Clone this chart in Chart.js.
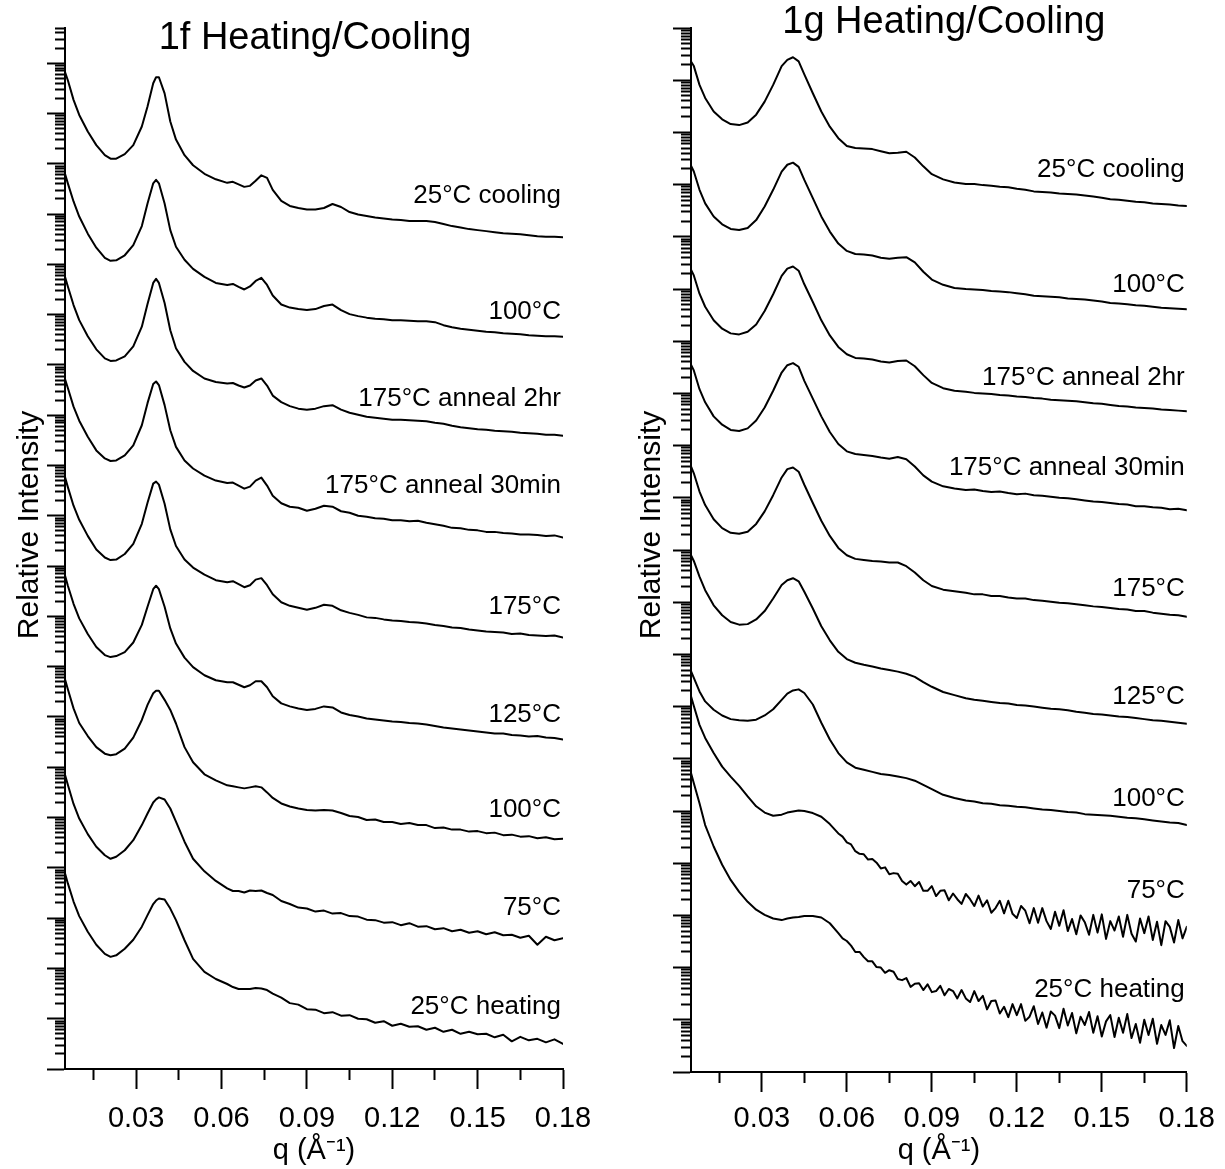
<!DOCTYPE html>
<html>
<head>
<meta charset="utf-8">
<title>1f / 1g Heating/Cooling SAXS</title>
<script src="https://cdn.jsdelivr.net/npm/chart.js@4.4.1/dist/chart.umd.min.js"></script>
<style>
  html, body { margin: 0; padding: 0; background: #fff; }
  #wrap { position: relative; width: 1225px; height: 1169px; overflow: hidden; }
  canvas { position: absolute; top: 0; }
  #c1f { left: 0; }
  #c1g { left: 612px; }
</style>
</head>
<body>
<div id="wrap">
  <canvas id="c1f" width="612" height="1169"></canvas>
  <canvas id="c1g" width="613" height="1169"></canvas>
</div>
<script>
// ---------- x axis ticks (q, 1/Å) ----------
const xTickValues = [0.015, 0.03, 0.045, 0.06, 0.075, 0.09, 0.105, 0.12, 0.135, 0.15, 0.165, 0.18];
const xTickLabeled = [0.03, 0.06, 0.09, 0.12, 0.15, 0.18];

// ---------- sample 1f : q grid and log10(relative intensity), curves stacked ----------
const q1f = [0.005, 0.006, 0.008, 0.010, 0.013, 0.016, 0.019, 0.021, 0.023, 0.026,
  0.029, 0.032, 0.034, 0.036, 0.037, 0.038, 0.040, 0.042, 0.044, 0.047,
  0.050, 0.054, 0.058, 0.062, 0.064, 0.066, 0.068, 0.070, 0.072, 0.074,
  0.076, 0.078, 0.081, 0.084, 0.087, 0.090, 0.093, 0.096, 0.099, 0.102,
  0.105, 0.108, 0.111, 0.114, 0.117, 0.120, 0.123, 0.126, 0.129, 0.132,
  0.135, 0.138, 0.141, 0.144, 0.147, 0.150, 0.153, 0.156, 0.159, 0.162,
  0.165, 0.168, 0.171, 0.174, 0.177, 0.180];

const f_cool25 = [18.82, 18.66, 18.27, 17.97, 17.64, 17.37, 17.17, 17.10, 17.10, 17.19,
  17.37, 17.74, 18.14, 18.60, 18.72, 18.72, 18.40, 17.84, 17.48, 17.17,
  16.97, 16.80, 16.69, 16.62, 16.64, 16.59, 16.54, 16.56, 16.66, 16.77,
  16.72, 16.48, 16.26, 16.16, 16.12, 16.09, 16.09, 16.12, 16.20, 16.14,
  16.04, 15.99, 15.96, 15.93, 15.91, 15.89, 15.88, 15.86, 15.86, 15.86,
  15.84, 15.80, 15.76, 15.73, 15.70, 15.68, 15.66, 15.64, 15.62, 15.61,
  15.60, 15.58, 15.56, 15.55, 15.55, 15.54];
const f_cool100 = [16.80, 16.61, 16.25, 15.95, 15.61, 15.33, 15.13, 15.07, 15.08, 15.18,
  15.38, 15.76, 16.21, 16.61, 16.68, 16.61, 16.21, 15.68, 15.35, 15.09,
  14.91, 14.75, 14.63, 14.59, 14.61, 14.55, 14.50, 14.56, 14.67, 14.73,
  14.59, 14.38, 14.20, 14.14, 14.11, 14.09, 14.11, 14.17, 14.20, 14.09,
  14.01, 13.97, 13.94, 13.92, 13.91, 13.89, 13.89, 13.88, 13.87, 13.87,
  13.85, 13.79, 13.75, 13.72, 13.70, 13.68, 13.66, 13.65, 13.63, 13.62,
  13.61, 13.59, 13.58, 13.57, 13.57, 13.56];
const f_anneal2h = [14.75, 14.56, 14.19, 13.89, 13.57, 13.31, 13.13, 13.08, 13.09, 13.17,
  13.37, 13.76, 14.21, 14.63, 14.71, 14.63, 14.23, 13.69, 13.33, 13.06,
  12.88, 12.73, 12.66, 12.63, 12.64, 12.59, 12.55, 12.59, 12.69, 12.73,
  12.59, 12.39, 12.26, 12.18, 12.13, 12.11, 12.13, 12.18, 12.20, 12.11,
  12.05, 12.01, 11.97, 11.95, 11.93, 11.91, 11.91, 11.90, 11.89, 11.88,
  11.85, 11.83, 11.79, 11.76, 11.74, 11.72, 11.71, 11.69, 11.68, 11.67,
  11.65, 11.64, 11.63, 11.61, 11.61, 11.59];
const f_anneal30 = [12.72, 12.54, 12.17, 11.89, 11.57, 11.30, 11.14, 11.09, 11.10, 11.20,
  11.40, 11.80, 12.24, 12.62, 12.67, 12.60, 12.20, 11.70, 11.37, 11.10,
  10.94, 10.80, 10.70, 10.65, 10.66, 10.60, 10.54, 10.58, 10.70, 10.76,
  10.60, 10.40, 10.25, 10.18, 10.16, 10.10, 10.14, 10.20, 10.18, 10.09,
  10.06, 10.00, 9.98, 9.95, 9.94, 9.91, 9.91, 9.89, 9.90, 9.86,
  9.83, 9.80, 9.76, 9.75, 9.72, 9.71, 9.68, 9.68, 9.66, 9.65,
  9.63, 9.63, 9.62, 9.60, 9.61, 9.57];
const f_heat175 = [10.77, 10.57, 10.20, 9.92, 9.60, 9.33, 9.17, 9.12, 9.13, 9.24,
  9.44, 9.84, 10.26, 10.64, 10.68, 10.62, 10.24, 9.73, 9.40, 9.13,
  8.97, 8.83, 8.72, 8.68, 8.70, 8.64, 8.58, 8.62, 8.73, 8.76,
  8.62, 8.44, 8.28, 8.21, 8.17, 8.13, 8.17, 8.23, 8.21, 8.12,
  8.07, 8.03, 7.98, 7.97, 7.94, 7.92, 7.91, 7.89, 7.88, 7.86,
  7.83, 7.81, 7.78, 7.77, 7.74, 7.72, 7.70, 7.69, 7.68, 7.65,
  7.66, 7.63, 7.62, 7.61, 7.62, 7.58];
const f_heat125 = [8.81, 8.61, 8.25, 7.96, 7.65, 7.39, 7.23, 7.19, 7.21, 7.29,
  7.48, 7.83, 8.19, 8.54, 8.61, 8.54, 8.19, 7.76, 7.46, 7.18,
  6.99, 6.83, 6.73, 6.69, 6.69, 6.64, 6.59, 6.63, 6.71, 6.71,
  6.59, 6.41, 6.27, 6.21, 6.17, 6.14, 6.16, 6.21, 6.19, 6.09,
  6.04, 6.01, 5.97, 5.95, 5.93, 5.91, 5.90, 5.88, 5.87, 5.85,
  5.82, 5.79, 5.77, 5.75, 5.73, 5.71, 5.69, 5.67, 5.67, 5.64,
  5.63, 5.61, 5.62, 5.59, 5.58, 5.55];
const f_heat100 = [6.75, 6.55, 6.17, 5.88, 5.62, 5.40, 5.27, 5.24, 5.26, 5.37,
  5.59, 5.94, 6.24, 6.47, 6.52, 6.52, 6.34, 6.14, 5.87, 5.40,
  5.10, 4.86, 4.74, 4.64, 4.62, 4.60, 4.58, 4.60, 4.62, 4.60,
  4.50, 4.39, 4.28, 4.22, 4.18, 4.15, 4.14, 4.15, 4.14, 4.09,
  4.03, 4.01, 3.95, 3.96, 3.91, 3.91, 3.87, 3.89, 3.85, 3.85,
  3.79, 3.80, 3.76, 3.76, 3.72, 3.73, 3.69, 3.70, 3.65, 3.66,
  3.62, 3.63, 3.59, 3.61, 3.57, 3.58];
const f_heat75 = [4.85, 4.65, 4.27, 3.98, 3.67, 3.42, 3.25, 3.18, 3.22, 3.35,
  3.55, 3.85, 4.08, 4.30, 4.36, 4.40, 4.36, 4.18, 3.92, 3.52,
  3.18, 2.93, 2.74, 2.59, 2.54, 2.54, 2.51, 2.55, 2.54, 2.55,
  2.50, 2.46, 2.34, 2.28, 2.21, 2.19, 2.13, 2.15, 2.09, 2.10,
  2.04, 2.03, 1.97, 1.96, 1.91, 1.92, 1.86, 1.90, 1.83, 1.84,
  1.78, 1.80, 1.74, 1.77, 1.71, 1.74, 1.68, 1.72, 1.66, 1.67,
  1.61, 1.65, 1.47, 1.63, 1.56, 1.60];
const f_heat25 = [2.89, 2.69, 2.33, 2.04, 1.73, 1.47, 1.29, 1.23, 1.26, 1.39,
  1.57, 1.83, 2.06, 2.28, 2.35, 2.39, 2.37, 2.19, 1.96, 1.56,
  1.19, 0.93, 0.79, 0.69, 0.63, 0.59, 0.59, 0.59, 0.61, 0.60,
  0.57, 0.50, 0.42, 0.31, 0.28, 0.19, 0.18, 0.11, 0.13, 0.06,
  0.07, 0.00, -0.01, -0.08, -0.05, -0.14, -0.10, -0.16, -0.15, -0.22,
  -0.18, -0.26, -0.22, -0.30, -0.26, -0.31, -0.30, -0.37, -0.32, -0.45,
  -0.36, -0.43, -0.40, -0.47, -0.41, -0.50];

const names1f = ['25°C cooling', '100°C', '175°C anneal 2hr', '175°C anneal 30min',
  '175°C', '125°C', '100°C', '75°C', '25°C heating'];
// log10 level of each curve label's baseline
const labelLevels1f = [16.22, 13.91, 12.18, 10.46, 8.04, 5.90, 4.02, 2.07, 0.09];

// ---------- sample 1g ----------
const q1g = [0.005, 0.006, 0.008, 0.010, 0.013, 0.016, 0.019, 0.022, 0.025, 0.028,
  0.031, 0.034, 0.037, 0.039, 0.041, 0.043, 0.045, 0.048, 0.051, 0.054,
  0.057, 0.060, 0.063, 0.066, 0.069, 0.072, 0.075, 0.078, 0.081, 0.084,
  0.087, 0.090, 0.094, 0.098, 0.102, 0.105, 0.108, 0.111, 0.114, 0.117,
  0.120, 0.123, 0.126, 0.129, 0.132, 0.135, 0.138, 0.141, 0.144, 0.147,
  0.150, 0.153, 0.156, 0.159, 0.162, 0.165, 0.168, 0.171, 0.174, 0.177,
  0.180];

// denser q sampling for the two noisy 1g heating scans
const q1gDense = [0.005, 0.006, 0.008, 0.010, 0.013, 0.016, 0.019, 0.022, 0.025, 0.028,
  0.031, 0.034, 0.037, 0.039, 0.041, 0.043, 0.045, 0.048, 0.051, 0.054,
  0.057,
  0.0585, 0.0600, 0.0615, 0.0630, 0.0645, 0.0660, 0.0675, 0.0690, 0.0705, 0.0720,
  0.0735, 0.0750, 0.0765, 0.0780, 0.0795, 0.0810, 0.0825, 0.0840, 0.0855, 0.0870,
  0.0885, 0.0900, 0.0915, 0.0930, 0.0945, 0.0960, 0.0975, 0.0990, 0.1005, 0.1020,
  0.1035, 0.1050, 0.1065, 0.1080, 0.1095, 0.1110, 0.1125, 0.1140, 0.1155, 0.1170,
  0.1185, 0.1200, 0.1215, 0.1230, 0.1245, 0.1260, 0.1275, 0.1290, 0.1305, 0.1320,
  0.1335, 0.1350, 0.1365, 0.1380, 0.1395, 0.1410, 0.1425, 0.1440, 0.1455, 0.1470,
  0.1485, 0.1500, 0.1515, 0.1530, 0.1545, 0.1560, 0.1575, 0.1590, 0.1605, 0.1620,
  0.1635, 0.1650, 0.1665, 0.1680, 0.1695, 0.1710, 0.1725, 0.1740, 0.1755, 0.1770,
  0.1785, 0.1800];

const g_cool25 = [19.36, 19.27, 18.91, 18.66, 18.40, 18.25, 18.16, 18.14, 18.19, 18.34,
  18.59, 18.91, 19.27, 19.39, 19.44, 19.36, 19.11, 18.75, 18.40, 18.11,
  17.89, 17.74, 17.70, 17.69, 17.68, 17.64, 17.60, 17.61, 17.63, 17.52,
  17.35, 17.20, 17.10, 17.04, 17.01, 17.01, 16.99, 16.98, 16.96, 16.95,
  16.92, 16.90, 16.87, 16.86, 16.85, 16.83, 16.82, 16.81, 16.79, 16.77,
  16.75, 16.72, 16.71, 16.69, 16.67, 16.66, 16.64, 16.63, 16.62, 16.60,
  16.59];
const g_cool100 = [17.36, 17.25, 16.90, 16.64, 16.39, 16.24, 16.15, 16.13, 16.17, 16.32,
  16.58, 16.90, 17.25, 17.38, 17.42, 17.34, 17.09, 16.74, 16.39, 16.10,
  15.87, 15.73, 15.67, 15.66, 15.64, 15.60, 15.58, 15.60, 15.61, 15.51,
  15.33, 15.18, 15.08, 15.02, 15.00, 14.99, 14.98, 14.96, 14.95, 14.94,
  14.92, 14.90, 14.87, 14.86, 14.85, 14.84, 14.82, 14.81, 14.80, 14.78,
  14.76, 14.73, 14.72, 14.71, 14.69, 14.68, 14.66, 14.64, 14.63, 14.62,
  14.61];
const g_anneal2h = [15.37, 15.26, 14.91, 14.66, 14.40, 14.24, 14.15, 14.13, 14.18, 14.32,
  14.58, 14.90, 15.25, 15.39, 15.43, 15.35, 15.09, 14.75, 14.40, 14.11,
  13.89, 13.75, 13.68, 13.67, 13.65, 13.61, 13.59, 13.62, 13.63, 13.52,
  13.35, 13.20, 13.10, 13.05, 13.03, 13.01, 13.00, 12.99, 12.97, 12.96,
  12.94, 12.93, 12.91, 12.90, 12.88, 12.87, 12.86, 12.85, 12.83, 12.81,
  12.80, 12.78, 12.76, 12.75, 12.73, 12.72, 12.71, 12.69, 12.68, 12.67,
  12.66];
const g_anneal30 = [13.55, 13.44, 13.08, 12.83, 12.56, 12.40, 12.30, 12.28, 12.33, 12.48,
  12.73, 13.05, 13.40, 13.54, 13.58, 13.51, 13.24, 12.90, 12.56, 12.26,
  12.03, 11.89, 11.84, 11.82, 11.80, 11.77, 11.75, 11.78, 11.74, 11.60,
  11.43, 11.31, 11.22, 11.18, 11.15, 11.16, 11.13, 11.11, 11.12, 11.09,
  11.07, 11.08, 11.05, 11.04, 11.02, 11.00, 10.99, 10.97, 10.95, 10.93,
  10.92, 10.90, 10.88, 10.87, 10.84, 10.84, 10.82, 10.81, 10.78, 10.79,
  10.76];
const g_heat175 = [11.60, 11.47, 11.12, 10.86, 10.59, 10.42, 10.33, 10.31, 10.35, 10.50,
  10.74, 11.05, 11.39, 11.55, 11.58, 11.50, 11.25, 10.90, 10.56, 10.27,
  10.04, 9.90, 9.83, 9.81, 9.79, 9.78, 9.76, 9.76, 9.69, 9.57,
  9.42, 9.31, 9.24, 9.21, 9.18, 9.15, 9.15, 9.12, 9.12, 9.09,
  9.07, 9.07, 9.04, 9.03, 9.01, 8.99, 8.98, 8.96, 8.94, 8.92,
  8.91, 8.89, 8.87, 8.86, 8.83, 8.83, 8.80, 8.78, 8.76, 8.75,
  8.72];
const g_heat125 = [9.90, 9.79, 9.49, 9.23, 8.94, 8.75, 8.62, 8.57, 8.58, 8.67,
  8.83, 9.07, 9.33, 9.42, 9.46, 9.40, 9.20, 8.88, 8.54, 8.27,
  8.05, 7.91, 7.84, 7.80, 7.77, 7.73, 7.70, 7.67, 7.63, 7.57,
  7.47, 7.38, 7.28, 7.22, 7.16, 7.13, 7.11, 7.09, 7.07, 7.06,
  7.03, 7.02, 7.00, 6.98, 6.96, 6.95, 6.93, 6.90, 6.88, 6.86,
  6.85, 6.83, 6.81, 6.80, 6.78, 6.76, 6.74, 6.73, 6.71, 6.69,
  6.67];
const g_heat100 = [7.68, 7.55, 7.29, 7.10, 6.94, 6.83, 6.76, 6.74, 6.73, 6.75,
  6.83, 6.95, 7.13, 7.25, 7.31, 7.33, 7.26, 7.04, 6.69, 6.37,
  6.11, 5.93, 5.83, 5.79, 5.75, 5.71, 5.69, 5.66, 5.63, 5.58,
  5.50, 5.42, 5.31, 5.25, 5.20, 5.18, 5.15, 5.14, 5.11, 5.10,
  5.08, 5.07, 5.05, 5.03, 5.02, 5.00, 4.98, 4.97, 4.94, 4.93,
  4.92, 4.91, 4.89, 4.87, 4.86, 4.84, 4.82, 4.80, 4.78, 4.77,
  4.73];
// on q1gDense
const g_heat75 = [7.20, 7.01, 6.65, 6.40, 6.11, 5.85, 5.66, 5.48, 5.28, 5.09,
  4.97, 4.91, 4.93, 4.97, 4.99, 5.01, 5.00, 4.96, 4.89, 4.75,
  4.57,
  4.51, 4.40, 4.36, 4.23, 4.18, 4.17, 4.07, 4.08, 4.01, 3.90,
  3.92, 3.79, 3.81, 3.80, 3.66, 3.59, 3.66, 3.56, 3.64, 3.47,
  3.47, 3.56, 3.37, 3.47, 3.48, 3.29, 3.42, 3.31, 3.22, 3.41,
  3.31, 3.18, 3.38, 3.17, 3.29, 3.05, 3.14, 3.28, 3.04, 3.28,
  3.03, 2.95, 3.18, 3.09, 2.85, 3.14, 2.86, 3.14, 2.89, 2.74,
  3.07, 2.80, 3.10, 2.70, 2.93, 2.64, 3.00, 2.87, 2.63, 3.01,
  2.67, 3.02, 2.55, 2.89, 2.71, 2.98, 2.59, 3.01, 2.65, 2.50,
  2.94, 2.66, 2.98, 2.53, 2.88, 2.43, 2.89, 2.78, 2.48, 2.91,
  2.56, 2.78];
const g_heat25 = [5.73, 5.53, 5.15, 4.73, 4.32, 3.97, 3.68, 3.45, 3.26, 3.11,
  3.01, 2.94, 2.91, 2.94, 2.96, 2.97, 2.99, 2.99, 2.96, 2.85,
  2.66,
  2.56, 2.51, 2.42, 2.30, 2.30, 2.20, 2.12, 2.12, 2.01, 2.00,
  1.90, 1.95, 1.92, 1.78, 1.76, 1.80, 1.63, 1.69, 1.70, 1.57,
  1.68, 1.53, 1.55, 1.65, 1.47, 1.59, 1.55, 1.41, 1.57, 1.41,
  1.34, 1.55, 1.36, 1.46, 1.20, 1.36, 1.37, 1.12, 1.25, 1.05,
  1.30, 1.09, 1.30, 0.98, 1.06, 1.26, 0.92, 1.14, 0.85, 1.16,
  1.08, 0.84, 1.21, 0.89, 1.13, 0.74, 1.06, 0.90, 1.15, 0.75,
  1.07, 0.68, 0.97, 1.09, 0.67, 1.04, 0.75, 1.11, 0.65, 0.92,
  0.56, 1.00, 0.71, 1.02, 0.54, 0.90, 0.71, 0.99, 0.46, 0.88,
  0.59, 0.50];

const names1g = ['25°C cooling', '100°C', '175°C anneal 2hr', '175°C anneal 30min',
  '175°C', '125°C', '100°C', '75°C', '25°C heating'];
const labelLevels1g = [17.15, 14.95, 13.16, 11.44, 9.11, 7.05, 5.10, 3.33, 1.44];

// ---------- drawing ----------
const FONT = '"Liberation Sans", Arial, Helvetica, sans-serif';
Chart.defaults.font.family = FONT;
Chart.defaults.color = '#000';

const isLabeledQ = v => xTickLabeled.some(t => Math.abs(t - v) < 1e-9);

// every 1..9 x 10^n inside the axis range; 10^n are the long ticks
function decadeTicks(min, max) {
  const out = [];
  const e0 = Math.floor(Math.log10(min)), e1 = Math.ceil(Math.log10(max));
  for (let e = e0; e <= e1; e++) {
    for (let k = 1; k <= 9; k++) {
      const v = k * Math.pow(10, e);
      if (v >= min * (1 - 1e-9) && v <= max * (1 + 1e-9)) out.push({ value: v, major: k === 1 });
    }
  }
  return out;
}

function makePanel(id, p) {
  const textLayer = {
    id: 'textLayer',
    afterDraw(chart) {
      const { ctx, chartArea: a, scales } = chart;
      ctx.save();
      ctx.fillStyle = '#000';
      ctx.textBaseline = 'alphabetic';
      ctx.textAlign = 'center';
      ctx.font = '38px ' + FONT;
      ctx.fillText(p.title, (a.left + a.right) / 2 + p.titleDx, p.titleBaseline);

      ctx.save();
      ctx.translate(p.yTitleX, p.yTitleY);
      ctx.rotate(-Math.PI / 2);
      ctx.textBaseline = 'middle';
      ctx.font = '30px ' + FONT;
      ctx.fillText('Relative Intensity', 0, 0);
      ctx.restore();

      ctx.font = '26px ' + FONT;
      ctx.textAlign = 'right';
      const xr = scales.x.getPixelForValue(0.18) - 2;
      p.names.forEach((t, i) => {
        ctx.fillText(t, xr, scales.y.getPixelForValue(Math.pow(10, p.labelLevels[i])));
      });
      ctx.restore();
    }
  };

  const datasets = p.series.map(([grid, s]) => ({
    data: grid.map((x, i) => ({ x, y: Math.pow(10, s[i]) })),
    borderColor: '#000',
    borderWidth: 2,
    pointRadius: 0,
    fill: false,
    tension: 0,
    borderJoinStyle: 'round',
    borderCapStyle: 'round'
  }));

  return new Chart(document.getElementById(id), {
    type: 'line',
    data: { datasets },
    options: {
      responsive: false,
      animation: false,
      events: [],
      layout: { padding: p.padding },
      plugins: { legend: { display: false }, tooltip: { enabled: false } },
      scales: {
        x: {
          type: 'linear',
          min: 0.005,
          max: 0.18,
          afterBuildTicks: s => { s.ticks = xTickValues.map(v => ({ value: v })); },
          afterFit: s => { s.height = p.xAxisHeight; },
          ticks: {
            autoSkip: false,
            maxRotation: 0,
            padding: p.xTickPad,
            font: { size: 29 },
            color: '#000',
            callback: v => (isLabeledQ(v) ? v.toFixed(2) : '')
          },
          grid: {
            drawOnChartArea: false,
            drawTicks: true,
            tickLength: 20,
            tickWidth: 2,
            tickColor: '#000',
            tickBorderDash: c => (c.tick && isLabeledQ(c.tick.value) ? [] : [10, 100])
          },
          border: { display: true, color: '#000', width: 2 },
          title: {
            display: true,
            text: 'q (Å⁻¹)',
            color: '#000',
            font: { size: 29 },
            padding: { top: 0, bottom: 1 }
          }
        },
        y: {
          type: 'logarithmic',
          min: p.ymin,
          max: p.ymax,
          afterBuildTicks: s => { s.ticks = decadeTicks(p.ymin, p.ymax); },
          afterFit: s => { s.width = p.yAxisWidth; },
          ticks: { display: false },
          grid: {
            drawOnChartArea: false,
            drawTicks: true,
            tickLength: 18,
            tickWidth: 2,
            tickColor: '#000',
            tickBorderDash: c => (c.tick && c.tick.major ? [] : [0, 8, 10, 100])
          },
          border: { display: true, color: '#000', width: 2 }
        }
      }
    },
    plugins: [textLayer]
  });
}

makePanel('c1f', {
  series: [[q1f, f_cool25], [q1f, f_cool100], [q1f, f_anneal2h], [q1f, f_anneal30], [q1f, f_heat175],
           [q1f, f_heat125], [q1f, f_heat100], [q1f, f_heat75], [q1f, f_heat25]],
  names: names1f,
  labelLevels: labelLevels1f,
  title: '1f Heating/Cooling',
  titleDx: 1,
  titleBaseline: 49,
  yTitleX: 30,
  yTitleY: 525,
  ymin: 0.1,
  ymax: 5e19,
  padding: { left: 0, right: 49, top: 28, bottom: 0 },
  yAxisWidth: 65,
  xAxisHeight: 100,
  xTickPad: 13
});

makePanel('c1g', {
  series: [[q1g, g_cool25], [q1g, g_cool100], [q1g, g_anneal2h], [q1g, g_anneal30], [q1g, g_heat175],
           [q1g, g_heat125], [q1g, g_heat100], [q1gDense, g_heat75], [q1gDense, g_heat25]],
  names: names1g,
  labelLevels: labelLevels1g,
  title: '1g Heating/Cooling',
  titleDx: 5,
  titleBaseline: 33,
  yTitleX: 40,
  yTitleY: 525,
  ymin: 1,
  ymax: 1e20,
  padding: { left: 0, right: 37, top: 28, bottom: 0 },
  yAxisWidth: 79,
  xAxisHeight: 97,
  xTickPad: 10
});
</script>
</body>
</html>
